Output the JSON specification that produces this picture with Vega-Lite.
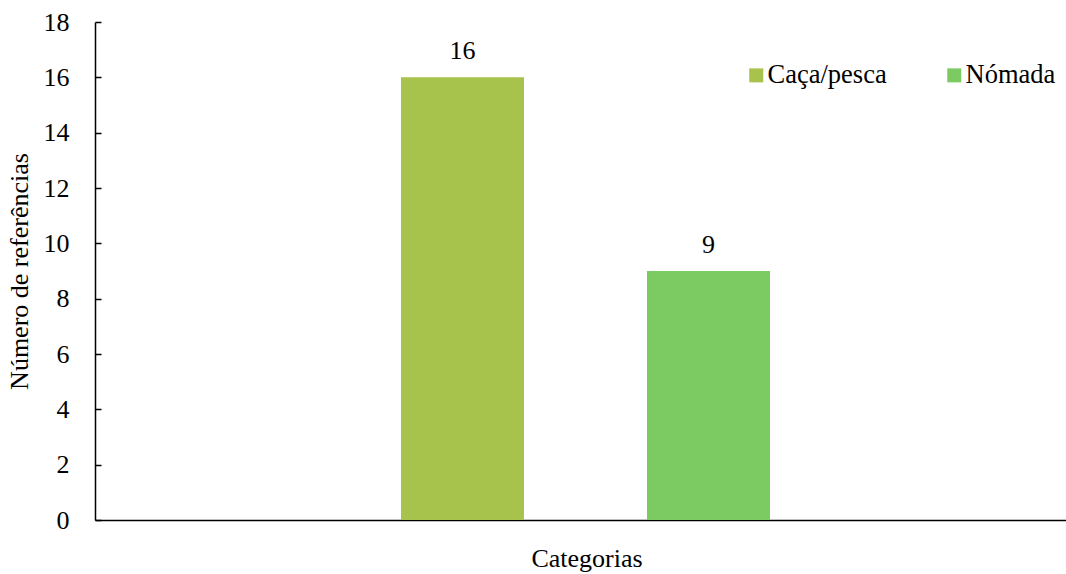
{
  "$schema": "https://vega.github.io/schema/vega-lite/v6.json",
  "width": 971,
  "height": 498,
  "autosize": {"type": "none"},
  "padding": {"left": 95, "top": 22, "right": 0, "bottom": 54},
  "background": "white",
  "config": {
    "font": "Liberation Serif",
    "view": {"stroke": null},
    "axis": {"labelFont": "Liberation Serif", "titleFont": "Liberation Serif", "labelColor": "black", "titleColor": "black", "titleFontWeight": "normal", "domainColor": "black", "tickColor": "black", "domainWidth": 1.5, "tickWidth": 1.5},
    "legend": {"labelFont": "Liberation Serif", "labelColor": "black"}
  },
  "data": {
    "values": [
      {"categoria": "Categorias", "serie": "Caça/pesca", "valor": 16},
      {"categoria": "Categorias", "serie": "Nómada", "valor": 9}
    ]
  },
  "encoding": {
    "x": {
      "field": "categoria",
      "type": "nominal",
      "scale": {"paddingInner": 0, "paddingOuter": 0.2894, "align": 0.514},
      "axis": {"title": "Categorias", "labels": false, "ticks": false, "titleFontSize": 26, "titlePadding": 25, "titleX": 491.5}
    },
    "xOffset": {
      "field": "serie",
      "type": "nominal",
      "sort": ["Caça/pesca", "Nómada"],
      "scale": {"paddingInner": 0.5, "paddingOuter": 0.5}
    },
    "y": {
      "field": "valor",
      "type": "quantitative",
      "scale": {"domain": [0, 18], "nice": false},
      "axis": {"values": [0, 2, 4, 6, 8, 10, 12, 14, 16, 18], "grid": false, "tickSize": -6, "labelPadding": 32, "labelFontSize": 26, "title": "Número de referências", "titleFontSize": 26, "titlePadding": 11}
    }
  },
  "layer": [
    {
      "mark": {"type": "bar"},
      "encoding": {
        "color": {
          "field": "serie",
          "type": "nominal",
          "sort": ["Caça/pesca", "Nómada"],
          "scale": {"domain": ["Caça/pesca", "Nómada"], "range": ["#A7C34B", "#7CCB62"]},
          "legend": {"title": null, "orient": "none", "legendX": 648, "legendY": 40, "direction": "horizontal", "symbolType": "square", "symbolSize": 196, "symbolStrokeWidth": 0, "labelFontSize": 26.5, "columnPadding": 54, "labelOffset": -2}
        }
      }
    },
    {
      "mark": {"type": "text", "dy": -26, "fontSize": 26, "color": "black", "font": "Liberation Serif"},
      "encoding": {"text": {"field": "valor", "type": "quantitative"}}
    }
  ]
}
